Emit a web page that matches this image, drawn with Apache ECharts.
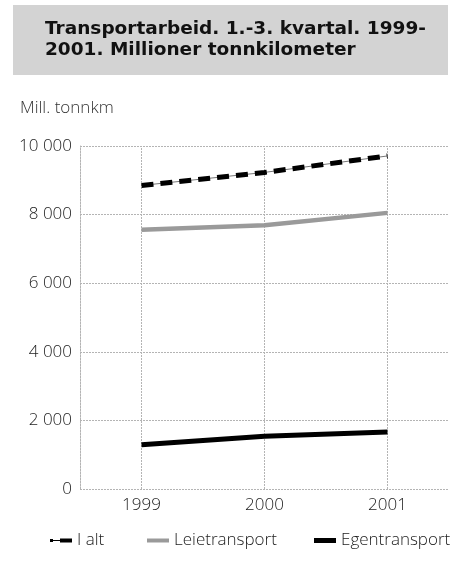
<!DOCTYPE html>
<html>
<head>
<meta charset="utf-8">
<script src="https://cdn.jsdelivr.net/npm/echarts@6/dist/echarts.min.js"></script>
<style>
html,body{margin:0;padding:0;background:#fff;}
#c{width:459px;height:570px;}
</style>
</head>
<body>
<div id="c"></div>
<script>
const years = ['1999', '2000', '2001'];
const iAlt = [8850, 9230, 9710];
const leietransport = [7560, 7690, 8050];
const egentransport = [1290, 1540, 1660];
const seriesNames = ['I alt', 'Leietransport', 'Egentransport'];
const titleLines = ['Transportarbeid. 1.-3. kvartal. 1999-', '2001. Millioner tonnkilometer'];
const unitLabel = 'Mill. tonnkm';

const FONT = '"Open Sans", sans-serif';
const chart = echarts.init(document.getElementById('c'), null, {renderer: 'canvas'});

const legendText = {fontFamily: FONT, fontSize: 17, fontWeight: 300, color: '#222'};
const gridLine = {color: '#b4b4b4', type: [2, 1], width: 1};

chart.setOption({
  animation: false,
  backgroundColor: '#fff',
  graphic: [
    {type: 'rect', left: 13, top: 5, shape: {width: 435, height: 70}, style: {fill: '#d3d3d3'}, z: 0},
    {type: 'text', left: 45, top: 19, style: {text: titleLines.join('\n'), font: 'bold 18.5px "DejaVu Sans", sans-serif', fill: '#111', lineHeight: 21}, z: 1},
    {type: 'text', left: 20, top: 100, style: {text: unitLabel, font: '300 17px ' + FONT, fill: '#333'}, z: 1}
  ],
  grid: {left: 80, right: 10, top: 146, bottom: 81, containLabel: false, show: false, borderWidth: 0},
  xAxis: {
    type: 'category',
    data: years,
    boundaryGap: true,
    axisLine: {show: false},
    axisTick: {show: false},
    axisLabel: {fontFamily: FONT, fontSize: 17, fontWeight: 300, color: '#222', margin: 8},
    splitLine: {show: false}
  },
  yAxis: {
    type: 'value',
    min: 0, max: 10000, interval: 2000,
    axisLine: {show: true, lineStyle: gridLine},
    axisTick: {show: false},
    axisLabel: {
      fontFamily: FONT, fontSize: 17, fontWeight: 300, color: '#222', margin: 8,
      formatter: v => String(v).replace(/\B(?=(\d{3})+(?!\d))/g, ' ')
    },
    splitLine: {show: true, lineStyle: gridLine}
  },
  legend: [
    {left: 45, top: 527, itemWidth: 22, itemHeight: 6, itemGap: 0, textStyle: legendText,
     data: [{name: seriesNames[0], icon: 'path://M0,1.5h3v3h-3z M3,2.6h7v0.8h-7z M10,1h12v4h-12z'}]},
    {left: 142, top: 527, itemWidth: 22, itemHeight: 4, textStyle: legendText,
     data: [{name: seriesNames[1], icon: 'rect', itemStyle: {color: '#9a9a9a'}}]},
    {left: 309, top: 527, itemWidth: 22, itemHeight: 5, textStyle: legendText,
     data: [{name: seriesNames[2], icon: 'rect', itemStyle: {color: '#000'}}]}
  ],
  series: [
    {name: seriesNames[0], type: 'line', data: iAlt, symbol: 'none', z: 2,
     lineStyle: {color: '#777', width: 1}, itemStyle: {color: '#000'},
     markLine: {silent: true, symbol: 'none', label: {show: false}, z: 1,
       lineStyle: gridLine, emphasis: {disabled: true},
       data: years.map(y => ({xAxis: y}))}},
    {name: seriesNames[0], type: 'line', data: iAlt, symbol: 'none', z: 3,
     lineStyle: {color: '#000', width: 5, type: [12, 7], cap: 'butt'}, itemStyle: {color: '#000'}},
    {name: seriesNames[1], type: 'line', data: leietransport, symbol: 'none', z: 3,
     lineStyle: {color: '#9a9a9a', width: 4.5}, itemStyle: {color: '#9a9a9a'}},
    {name: seriesNames[2], type: 'line', data: egentransport, symbol: 'none', z: 3,
     lineStyle: {color: '#000', width: 5}, itemStyle: {color: '#000'}}
  ]
});
</script>
</body>
</html>
